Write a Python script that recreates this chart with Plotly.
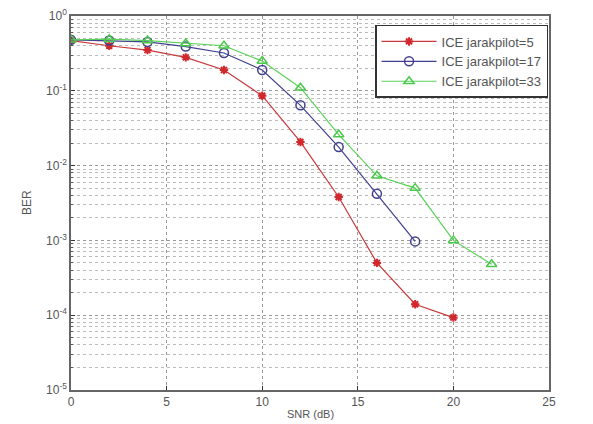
import plotly.graph_objects as go

snr_red = [0, 2, 4, 6, 8, 10, 12, 14, 16, 18, 20]
ber_red = [0.47, 0.40, 0.35, 0.28, 0.19, 0.086, 0.0207, 0.0038, 5.0e-4, 1.4e-4, 9.3e-5]

snr_blue = [0, 2, 4, 6, 8, 10, 12, 14, 16, 18]
ber_blue = [0.48, 0.47, 0.45, 0.39, 0.32, 0.19, 0.064, 0.0177, 0.0042, 9.7e-4]

snr_green = [0, 2, 4, 6, 8, 10, 12, 14, 16, 18, 20, 22]
ber_green = [0.48, 0.49, 0.47, 0.43, 0.40, 0.25, 0.11, 0.026, 0.0073, 0.005, 1.0e-3, 4.8e-4]

names = ["ICE jarakpilot=5", "ICE jarakpilot=17", "ICE jarakpilot=33"]
x_ticks = [0, 5, 10, 15, 20, 25]
y_exps = [0, -1, -2, -3, -4, -5]

fig = go.Figure()
fig.add_trace(go.Scatter(x=snr_red, y=ber_red, name=names[0], mode="lines+markers",
                         line=dict(color="#c8383c", width=1.2),
                         marker=dict(symbol="asterisk-open", size=7, color="#d0282c",
                                     line=dict(color="#d0282c", width=2))))
fig.add_trace(go.Scatter(x=snr_blue, y=ber_blue, name=names[1], mode="lines+markers",
                         line=dict(color="#40408e", width=1.2),
                         marker=dict(symbol="circle-open", size=9, color="#40408e",
                                     line=dict(color="#40408e", width=1.5))))
fig.add_trace(go.Scatter(x=snr_green, y=ber_green, name=names[2], mode="lines+markers",
                         line=dict(color="#5ad25a", width=1.2),
                         marker=dict(symbol="triangle-up-open", size=9, color="#4cc84c",
                                     line=dict(color="#4cc84c", width=1.5))))

minor_vals = [m * 10 ** e for e in range(-5, 0) for m in range(2, 10)]

fig.update_layout(
    width=593, height=424,
    margin=dict(l=71, r=44, t=16, b=34),
    paper_bgcolor="white", plot_bgcolor="white",
    font=dict(family="Liberation Sans, Arial, sans-serif", size=12, color="#555"),
    showlegend=True,
    legend=dict(x=0.998, y=0.976, xanchor="right", yanchor="top",
                bgcolor="white", bordercolor="#333", borderwidth=1.5,
                font=dict(size=13, color="#555"), tracegroupgap=0, itemwidth=55),
    annotations=[
        dict(text="SNR (dB)", xref="paper", yref="paper", x=0.5, y=0,
             yshift=-16, xanchor="center", yanchor="top", showarrow=False,
             font=dict(size=11, color="#555")),
        dict(text="BER", xref="paper", yref="paper", x=0, y=0.5, xshift=-44,
             xanchor="center", yanchor="middle", textangle=-90, showarrow=False,
             font=dict(size=12, color="#555")),
    ],
)
fig.update_xaxes(range=[0, 25], tickvals=x_ticks, ticktext=[str(v) for v in x_ticks],
                 automargin=False, ticklabelstandoff=0,
                 showline=True, linecolor="#666", linewidth=1.5, mirror=True,
                 showgrid=True, gridcolor="#999", griddash="dot", gridwidth=1,
                 zeroline=False, ticks="inside", ticklen=4, tickcolor="#333")
fig.update_yaxes(type="log", range=[-5, 0], automargin=False,
                 tickvals=[10 ** e for e in y_exps],
                 ticktext=["10<sup>%d</sup>" % e for e in y_exps],
                 showline=True, linecolor="#666", linewidth=1.5, mirror=True,
                 showgrid=True, gridcolor="#999", griddash="dot", gridwidth=1,
                 zeroline=False, ticks="inside", ticklen=4, tickcolor="#333",
                 minor=dict(tickvals=minor_vals, showgrid=True, gridcolor="#bbb",
                            griddash="dot", ticks="inside", ticklen=2, tickcolor="#555"))

fig.write_html("out.html")
